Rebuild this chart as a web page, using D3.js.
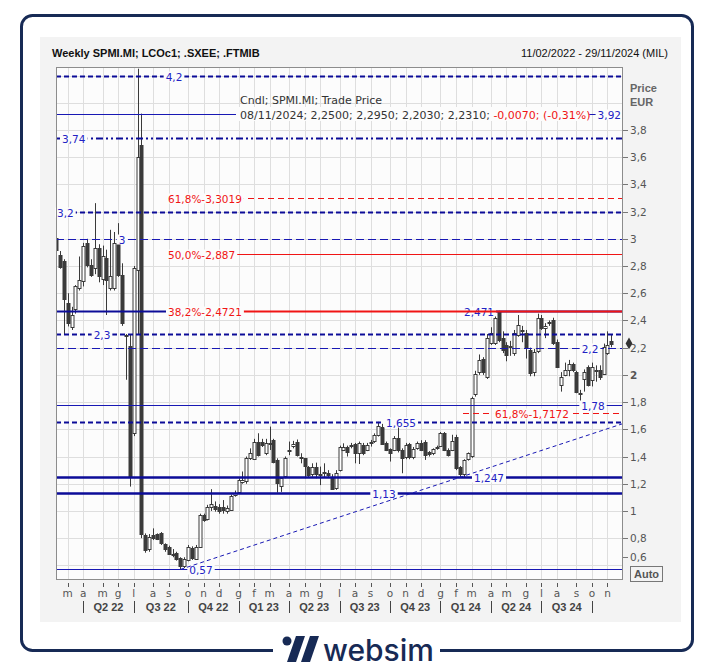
<!DOCTYPE html>
<html>
<head>
<meta charset="utf-8">
<script src="https://cdn.jsdelivr.net/npm/d3@7"></script>
<style>
  body { margin: 0; background: #fff; }
  svg { display: block; }
</style>
</head>
<body>
<script>
/*
Weekly candles SPMI.MI, 11/02/2022 - 08/11/2024
*/
var startDate = new Date(2022, 1, 11);

var open = [3.005,2.883,2.834,2.527,2.356,2.478,2.638,2.687,2.968,2.809,2.785,2.932,2.699,2.858,2.638,2.638,2.968,2.736,2.29,2.209,
  1.571,2.772,3.69,0.823,0.725,0.823,0.828,0.835,0.754,0.737,0.685,0.688,0.651,0.595,0.644,0.725,0.65,0.738,0.97,0.94,
  1.03,1.04,1.027,1.03,0.995,1.007,1.117,1.142,1.216,1.216,1.387,1.387,1.51,1.51,1.42,1.49,1.522,1.375,1.184,1.252,
  1.44,1.473,1.51,1.40,1.387,1.326,1.277,1.32,1.27,1.28,1.277,1.252,1.167,1.296,1.448,1.468,1.48,1.49,1.424,1.485,
  1.448,1.50,1.517,1.559,1.62,1.497,1.453,1.448,1.534,1.448,1.395,1.49,1.395,1.46,1.50,1.51,1.43,1.424,1.465,1.478,
  1.571,1.448,1.453,1.547,1.32,1.27,1.38,1.40,1.858,2.024,2.117,1.988,2.233,2.233,2.47,2.27,2.22,2.20,2.159,2.294,
  2.33,2.31,2.184,2.024,2.17,2.416,2.343,2.38,2.404,2.245,1.926,2.0,2.037,2.078,2.024,1.87,1.975,2.061,1.963,2.03,
  2.037,2.012,2.159,2.25];
var high = [3.091,2.91,2.85,2.60,2.50,2.66,2.87,2.97,3.0,2.85,3.262,2.96,2.95,2.92,3.066,3.05,3.115,2.82,2.30,2.30,
  2.80,4.25,3.92,0.835,0.83,0.872,0.835,0.845,0.762,0.745,0.72,0.70,0.66,0.66,0.75,0.74,0.75,0.98,0.98,1.045,
  1.16,1.07,1.05,1.08,1.04,1.12,1.15,1.24,1.29,1.40,1.46,1.53,1.571,1.53,1.53,1.62,1.53,1.387,1.25,1.40,
  1.51,1.515,1.525,1.424,1.39,1.33,1.35,1.355,1.326,1.35,1.30,1.27,1.30,1.48,1.497,1.48,1.50,1.50,1.51,1.50,
  1.50,1.522,1.57,1.655,1.64,1.51,1.46,1.55,1.62,1.46,1.50,1.50,1.47,1.51,1.52,1.52,1.44,1.46,1.48,1.58,
  1.58,1.46,1.56,1.56,1.33,1.38,1.43,1.84,2.03,2.15,2.13,2.30,2.35,2.46,2.471,2.32,2.24,2.25,2.33,2.44,
  2.36,2.33,2.20,2.19,2.45,2.44,2.38,2.40,2.42,2.26,2.02,2.09,2.11,2.09,2.03,1.89,2.04,2.07,2.09,2.07,
  2.07,2.23,2.32,2.295];
var low = [2.797,2.78,2.294,2.356,2.33,2.45,2.62,2.65,2.79,2.72,2.74,2.68,2.66,2.44,2.62,2.62,2.72,2.36,1.964,1.179,
  1.55,2.30,0.80,0.693,0.70,0.786,0.786,0.75,0.70,0.68,0.66,0.635,0.57,0.58,0.63,0.64,0.64,0.73,0.92,0.93,
  1.00,0.995,0.98,0.98,0.98,1.0,1.105,1.13,1.20,1.20,1.375,1.38,1.40,1.47,1.41,1.448,1.35,1.135,1.14,1.24,
  1.41,1.46,1.40,1.35,1.24,1.25,1.252,1.24,1.19,1.25,1.25,1.16,1.155,1.29,1.44,1.40,1.46,1.35,1.345,1.41,
  1.44,1.473,1.50,1.547,1.49,1.44,1.363,1.44,1.43,1.277,1.38,1.38,1.38,1.45,1.44,1.375,1.40,1.41,1.45,1.47,
  1.44,1.40,1.44,1.30,1.247,1.25,1.37,1.39,1.84,2.0,2.0,1.97,2.22,2.22,2.24,2.16,2.10,2.14,2.14,2.28,
  2.24,2.12,1.99,1.99,2.16,2.33,2.27,2.36,2.22,2.05,1.877,1.99,1.99,2.02,1.865,1.78,1.877,1.915,1.915,1.95,
  1.963,2.0,2.147,2.203];
var close = [2.919,2.797,2.552,2.38,2.441,2.65,2.699,2.944,2.809,2.736,2.932,2.723,2.87,2.699,2.723,2.968,2.736,2.38,2.282,1.253,
  2.785,3.60,0.83,0.713,0.811,0.799,0.791,0.762,0.718,0.688,0.683,0.644,0.59,0.644,0.738,0.65,0.738,0.97,0.934,1.03,
  1.05,1.02,0.995,1.007,1.02,1.11,1.135,1.228,1.228,1.387,1.424,1.51,1.412,1.485,1.497,1.50,1.363,1.203,1.24,1.387,
  1.45,1.49,1.412,1.395,1.326,1.265,1.326,1.265,1.275,1.285,1.265,1.167,1.277,1.468,1.473,1.43,1.485,1.424,1.497,1.424,
  1.485,1.505,1.559,1.625,1.497,1.448,1.424,1.534,1.448,1.387,1.485,1.395,1.453,1.50,1.448,1.412,1.412,1.453,1.47,1.571,
  1.448,1.412,1.517,1.32,1.265,1.375,1.424,1.828,2.005,2.11,2.024,2.274,2.306,2.416,2.257,2.184,2.147,2.21,2.306,2.367,
  2.32,2.21,2.012,2.17,2.416,2.343,2.36,2.385,2.233,2.061,1.988,2.037,2.078,2.037,1.877,1.865,2.024,1.926,2.061,2.035,
  1.988,2.208,2.22,2.231];

// horizontal support / resistance lines
var levelValues = [4.2, 3.92, 3.74, 3.2, 3.0, 2.471, 2.3, 2.2, 1.78, 1.655, 1.247, 1.13, 0.57];
var levelLabels = ["4,2", "3,92", "3,74", "3,2", "3", "2,471", "2,3", "2,2", "1,78", "1,655", "1,247", "1,13", "0,57"];

// fibonacci retracement levels
var fibValues = [3.3019, 2.887, 2.4721, 1.7172];
var fibLabels = ["61,8%-3,3019", "50,0%-2,887", "38,2%-2,4721", "61,8%-1,7172"];

var priceTicks = [0.6, 0.8, 1, 1.2, 1.4, 1.6, 1.8, 2, 2.2, 2.4, 2.6, 2.8, 3, 3.2, 3.4, 3.6, 3.8];
var monthLetters = ["g", "f", "m", "a", "m", "g", "l", "a", "s", "o", "n", "d"];
var quarterLabels = ["Q2 22", "Q3 22", "Q4 22", "Q1 23", "Q2 23", "Q3 23", "Q4 23", "Q1 24", "Q2 24", "Q3 24"];

var width = 714,
    height = 672;

var plot = {left: 56, right: 623, top: 67, bottom: 580};
var navy = "#0c0c98", thinBlue = "#1818b4", labelBlue = "#2222c4", red = "#f01414", candleCol = "#3a3a3a", plotBg = "#fcfcfc";
var font = "'DejaVu Sans', sans-serif", fontB = "'Liberation Sans', Arial, sans-serif";

var fmt = d3.formatLocale({decimal: ",", thousands: ".", grouping: [3], currency: ["", ""]}).format(".2~f");

var dates = d3.range(open.length).map(function(i) { return d3.timeWeek.offset(startDate, i); });

var x = d3.scaleTime()
    .domain([startDate, new Date(2024, 10, 29)])
    .range([plot.left, plot.right]);

var y = d3.scaleLinear()
    .domain([0.4926, 4.2625])
    .range([plot.bottom, plot.top]);

var svg = d3.select("body").append("svg")
    .attr("width", width)
    .attr("height", height);

// outer frame and grey panel
svg.append("rect")
    .attr("x", 21.5).attr("y", 15.5)
    .attr("width", 671).attr("height", 635)
    .attr("rx", 11)
    .attr("fill", "#fff")
    .attr("stroke", "#172a55")
    .attr("stroke-width", 3);

svg.append("rect")
    .attr("x", 40).attr("y", 37)
    .attr("width", 641).attr("height", 585)
    .attr("fill", "#f3f3f3");

svg.append("rect")
    .attr("x", plot.left).attr("y", plot.top)
    .attr("width", plot.right - plot.left).attr("height", plot.bottom - plot.top)
    .attr("fill", plotBg);

svg.append("clipPath").attr("id", "clip")
  .append("rect")
    .attr("x", plot.left).attr("y", plot.top)
    .attr("width", plot.right - plot.left).attr("height", plot.bottom - plot.top);

var g = svg.append("g").attr("clip-path", "url(#clip)");

// month ticks = first weekly bar of each month
var monthDates = dates.filter(function(d, i) {
  return i > 0 && d.getMonth() !== dates[i - 1].getMonth();
});
var quarterDates = monthDates.filter(function(d) { return d.getMonth() % 3 === 0; });

g.append("g")
  .selectAll("line")
  .data(monthDates)
  .enter().append("line")
    .attr("x1", function(d) { return Math.round(x(d)) + 0.5; })
    .attr("x2", function(d) { return Math.round(x(d)) + 0.5; })
    .attr("y1", plot.top).attr("y2", plot.bottom)
    .attr("stroke", "#dedede");

g.append("g")
  .selectAll("line")
  .data(d3.range(3, 22).map(function(k) { return k / 5; }))
  .enter().append("line")
    .attr("x1", plot.left).attr("x2", plot.right)
    .attr("y1", function(d) { return Math.round(y(d)) + 0.5; })
    .attr("y2", function(d) { return Math.round(y(d)) + 0.5; })
    .attr("stroke", "#dedede");

// candles
var candles = g.append("g")
  .selectAll("g")
  .data(dates)
  .enter().append("g");

candles.append("line")
    .attr("x1", function(d) { return Math.round(x(d)) + 0.5; })
    .attr("x2", function(d) { return Math.round(x(d)) + 0.5; })
    .attr("y1", function(d, i) { return y(high[i]); })
    .attr("y2", function(d, i) { return y(low[i]); })
    .attr("stroke", candleCol);

candles.append("rect")
    .attr("x", function(d) { return Math.round(x(d)) - 1; })
    .attr("width", 3)
    .attr("y", function(d, i) { return Math.round(y(Math.max(open[i], close[i]))) + 0.5; })
    .attr("height", function(d, i) { return Math.max(1, Math.round(Math.abs(y(open[i]) - y(close[i])))); })
    .attr("fill", function(d, i) { return close[i] < open[i] ? candleCol : "#fff"; })
    .attr("stroke", candleCol);

// level line styles
var levelStyle = [
  {w: 2, dash: "5,3", lx: 174, anchor: "middle"},
  {w: 1, dash: null, lx: 621, anchor: "end"},
  {w: 2, dash: "7,3,2,3,2,3", lx: 62, anchor: "start"},
  {w: 2, dash: "5,3", lx: 57, anchor: "start"},
  {w: 1, dash: "8,4", lx: 122, anchor: "middle"},
  {w: 2, dash: null, lx: 479, anchor: "middle", seg: [[56, 168], [463, 623]]},
  {w: 2, dash: "5,3", lx: 102, anchor: "middle"},
  {w: 1, dash: "8,4", lx: 590, anchor: "middle"},
  {w: 1, dash: null, lx: 593, anchor: "middle"},
  {w: 2, dash: "5,3", lx: 401, anchor: "middle"},
  {w: 2.5, dash: null, lx: 489, anchor: "middle"},
  {w: 2.5, dash: null, lx: 384, anchor: "middle"},
  {w: 1, dash: null, lx: 201, anchor: "middle"}
];

var fibStyle = [
  {w: 1, dash: "6,4", x0: 168, lx: 168, anchor: "start"},
  {w: 1, dash: null, x0: 168, lx: 168, anchor: "start"},
  {w: 2, dash: null, x0: 168, lx: 168, anchor: "start"},
  {w: 1, dash: "6,4", x0: 463, lx: 532, anchor: "middle"}
];

var lines = svg.append("g");

function drawLabel(parent, text, lx, ly, anchor, color) {
  var t = parent.append("text")
      .attr("x", lx).attr("y", ly + 4)
      .attr("text-anchor", anchor)
      .attr("font-family", font)
      .attr("font-size", "10.5px")
      .attr("fill", color)
      .text(text);
  var b = t.node().getBBox();
  parent.insert("rect", function() { return t.node(); })
      .attr("x", b.x - 2).attr("y", ly - 5)
      .attr("width", b.width + 4).attr("height", 10)
      .attr("fill", plotBg);
}

levelValues.forEach(function(v, i) {
  var s = levelStyle[i], ly = Math.round(y(v)) + 0.5;
  var segs = s.seg || [[plot.left, plot.right]];
  var lg = lines.append("g");
  segs.forEach(function(sg) {
    lg.append("line")
        .attr("x1", sg[0]).attr("x2", sg[1])
        .attr("y1", ly).attr("y2", ly)
        .attr("stroke", s.w > 1 ? navy : thinBlue)
        .attr("stroke-width", s.w)
        .attr("stroke-dasharray", s.dash);
  });
  drawLabel(lg, levelLabels[i], s.lx, ly, s.anchor, labelBlue);
});

// trend line through the two lows
var tA = [32, 104];
var x1 = x(dates[tA[0]]), y1 = y(low[tA[0]]),
    x2 = x(dates[tA[1]]), y2 = y(low[tA[1]]);
var slope = (y2 - y1) / (x2 - x1);
lines.append("line")
    .attr("x1", x1).attr("y1", y1)
    .attr("x2", plot.right).attr("y2", y1 + slope * (plot.right - x1))
    .attr("stroke", thinBlue)
    .attr("stroke-dasharray", "4,3");

fibValues.forEach(function(v, i) {
  var s = fibStyle[i], ly = Math.round(y(v)) + 0.5;
  var fg = lines.append("g");
  fg.append("line")
      .attr("x1", s.x0).attr("x2", plot.right)
      .attr("y1", ly).attr("y2", ly)
      .attr("stroke", red)
      .attr("stroke-width", s.w)
      .attr("stroke-dasharray", s.dash);
  drawLabel(fg, fibLabels[i], s.lx, ly, s.anchor, red);
});

// legend
svg.append("rect")
    .attr("x", 236).attr("y", 107)
    .attr("width", 353).attr("height", 14)
    .attr("fill", plotBg);

svg.append("text")
    .attr("x", 240).attr("y", 104)
    .attr("font-family", font).attr("font-size", "11px")
    .attr("fill", "#333")
    .text("Cndl; SPMI.MI; Trade Price");

var leg = svg.append("text")
    .attr("x", 240).attr("y", 119)
    .attr("font-family", font).attr("font-size", "11px")
    .attr("fill", "#333");
leg.append("tspan").text("08/11/2024; 2,2500; 2,2950; 2,2030; 2,2310; ");
leg.append("tspan").attr("fill", red).text("-0,0070; (-0,31%)");

// plot border
svg.append("rect")
    .attr("x", plot.left + 0.5).attr("y", plot.top + 0.5)
    .attr("width", plot.right - plot.left - 1).attr("height", plot.bottom - plot.top - 1)
    .attr("fill", "none")
    .attr("stroke", "#8c8c8c");

// right price axis (lowest label lifted above the Auto box)
var tickY = function(d) { return Math.min(Math.round(y(d)) + 0.5, 557.5); };

var ax = svg.append("g");
ax.selectAll("line")
  .data(priceTicks)
  .enter().append("line")
    .attr("x1", plot.right).attr("x2", plot.right + 5)
    .attr("y1", tickY)
    .attr("y2", tickY)
    .attr("stroke", "#777");

ax.selectAll("text")
  .data(priceTicks)
  .enter().append("text")
    .attr("x", plot.right + 7)
    .attr("y", function(d) { return tickY(d) + 3.5; })
    .attr("font-family", font).attr("font-size", "10.5px")
    .attr("font-weight", function(d) { return d === 2 ? "bold" : "normal"; })
    .attr("fill", "#555")
    .text(function(d) { return fmt(d); });

svg.append("text")
    .attr("x", 630).attr("y", 92)
    .attr("font-family", fontB).attr("font-size", "11px").attr("font-weight", "bold")
    .attr("fill", "#666")
    .text("Price");
svg.append("text")
    .attr("x", 630).attr("y", 106)
    .attr("font-family", fontB).attr("font-size", "11px").attr("font-weight", "bold")
    .attr("fill", "#666")
    .text("EUR");

svg.append("path")
    .attr("d", d3.symbol(d3.symbolDiamond, 40)())
    .attr("transform", "translate(629," + y(close[close.length - 1]) + ")")
    .attr("fill", "#333");

svg.append("rect")
    .attr("x", 630.5).attr("y", 566.5)
    .attr("width", 32).attr("height", 15)
    .attr("fill", "#f3f3f3")
    .attr("stroke", "#777");
svg.append("text")
    .attr("x", 646.5).attr("y", 578)
    .attr("text-anchor", "middle")
    .attr("font-family", fontB).attr("font-size", "11px").attr("font-weight", "bold")
    .attr("fill", "#555")
    .text("Auto");

// bottom time axis
var bx = svg.append("g");
bx.selectAll("line")
  .data(monthDates)
  .enter().append("line")
    .attr("x1", function(d) { return Math.round(x(d)) + 0.5; })
    .attr("x2", function(d) { return Math.round(x(d)) + 0.5; })
    .attr("y1", plot.bottom + 3).attr("y2", plot.bottom + 7)
    .attr("stroke", "#555");

bx.selectAll("text.m")
  .data(monthDates)
  .enter().append("text")
    .attr("class", "m")
    .attr("x", function(d) { return x(d); })
    .attr("y", 597)
    .attr("text-anchor", "middle")
    .attr("font-family", font).attr("font-size", "10.5px")
    .attr("fill", "#555")
    .text(function(d) { return monthLetters[d.getMonth()]; });

bx.selectAll("line.q")
  .data(quarterDates)
  .enter().append("line")
    .attr("class", "q")
    .attr("x1", function(d) { return Math.round(x(d)) + 0.5; })
    .attr("x2", function(d) { return Math.round(x(d)) + 0.5; })
    .attr("y1", 601).attr("y2", 613)
    .attr("stroke", "#444");

bx.selectAll("text.q")
  .data(quarterLabels)
  .enter().append("text")
    .attr("class", "q")
    .attr("x", function(d, i) { return (x(quarterDates[i]) + x(quarterDates[i + 1])) / 2; })
    .attr("y", 611)
    .attr("text-anchor", "middle")
    .attr("font-family", fontB).attr("font-size", "11px").attr("font-weight", "bold")
    .attr("fill", "#444")
    .text(function(d) { return d; });

// header
svg.append("text")
    .attr("x", 52).attr("y", 57)
    .attr("font-family", fontB).attr("font-size", "11px").attr("font-weight", "bold")
    .attr("fill", "#111")
    .text("Weekly SPMI.MI; LCOc1; .SXEE; .FTMIB");

svg.append("text")
    .attr("x", 668).attr("y", 57)
    .attr("text-anchor", "end")
    .attr("font-family", fontB).attr("font-size", "11px")
    .attr("fill", "#111")
    .text("11/02/2022 - 29/11/2024 (MIL)");

// logo on the bottom edge of the frame
svg.append("rect")
    .attr("x", 273).attr("y", 640)
    .attr("width", 167).attr("height", 20)
    .attr("fill", "#fff");

var logo = svg.append("g").attr("fill", "#172a55");
logo.append("circle").attr("cx", 287).attr("cy", 641).attr("r", 4.5);
logo.append("path").attr("d", "M296,636 L305,636 L296,662 L287,662 Z");
logo.append("path").attr("d", "M310,636 L319,636 L310,662 L301,662 Z");
logo.append("text")
    .attr("x", 323).attr("y", 661)
    .attr("font-family", "Inter, sans-serif")
    .attr("font-size", "30px").attr("font-weight", 500)
    .text("websim");
</script>
</body>
</html>
